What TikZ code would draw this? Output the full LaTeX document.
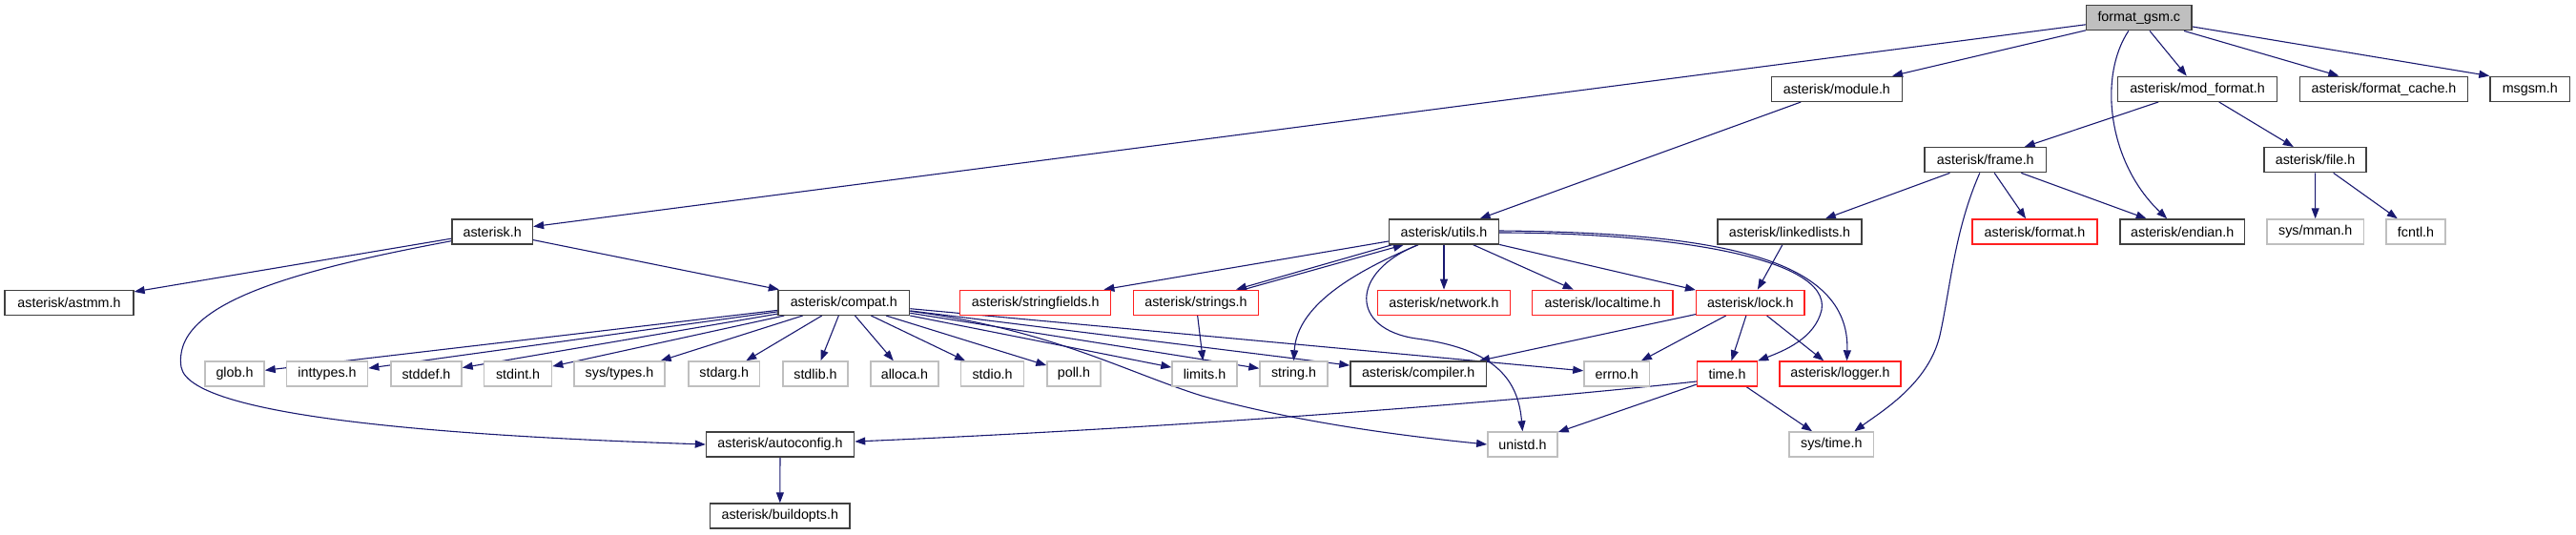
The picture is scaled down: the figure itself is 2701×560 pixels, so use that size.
\documentclass[tikz,border=0pt]{standalone}
\usepackage{fontspec}
\setmainfont{Liberation Sans}
\usetikzlibrary{arrows.meta,calc,backgrounds}
\definecolor{docgray}{HTML}{404040}
\definecolor{sysgray}{HTML}{BFBFBF}
\definecolor{edgeblue}{HTML}{191970}
\definecolor{truncred}{HTML}{FF2020}
\tikzset{
  nbase/.style={draw, rectangle, minimum height=26pt, inner sep=0pt, fill=white,
    font=\fontsize{14.3}{17}\selectfont, line width=1.4pt},
  docnode/.style={nbase, draw=docgray},
  trunc/.style={nbase, draw=truncred},
  sysnode/.style={nbase, draw=sysgray},
  rootnode/.style={nbase, draw=docgray, fill=sysgray},
  dep/.style={draw=edgeblue, line width=1.1pt, -{Triangle[length=11pt,width=8pt]}},
}
\begin{document}
\begin{tikzpicture}[x=1pt,y=-1pt]
\useasboundingbox (0,0) rectangle (2701,560);
% row 1
\node[rootnode, minimum width=110.5pt] (fgsm) at (2242.8,18.7) {format\_gsm.c};
% row 2
\node[docnode, minimum width=136.6pt] (module) at (1925.9,93.3) {asterisk/module.h};
\node[docnode, minimum width=167pt] (modformat) at (2304,93.3) {asterisk/mod\_format.h};
\node[docnode, minimum width=176pt] (fcache) at (2499.5,93.3) {asterisk/format\_cache.h};
\node[docnode, minimum width=83.6pt] (msgsm) at (2652.8,93.3) {msgsm.h};
% row 3
\node[docnode, minimum width=127.5pt] (frame) at (2081.8,167.7) {asterisk/frame.h};
\node[docnode, minimum width=107pt] (file) at (2427.5,167.7) {asterisk/file.h};
% row 4
\node[docnode, minimum width=84.5pt] (asterisk) at (516.2,243) {asterisk.h};
\node[docnode, minimum width=115pt] (utils) at (1514,243) {asterisk/utils.h};
\node[docnode, minimum width=151pt] (linked) at (1876.5,243) {asterisk/linkedlists.h};
\node[trunc, minimum width=131pt] (format) at (2133.5,243) {asterisk/format.h};
\node[docnode, minimum width=130.8pt] (endian) at (2288.2,243) {asterisk/endian.h};
\node[sysnode, minimum width=101.8pt] (mman) at (2427.7,243) {sys/mman.h};
\node[sysnode, minimum width=62pt] (fcntl) at (2533,243) {fcntl.h};
% row 5
\node[docnode, minimum width=135pt] (astmm) at (72.5,317.3) {asterisk/astmm.h};
\node[docnode, minimum width=137.6pt] (compat) at (884.8,317.3) {asterisk/compat.h};
\node[trunc, minimum width=158pt] (sfields) at (1085.7,317.3) {asterisk/stringfields.h};
\node[trunc, minimum width=131pt] (strings) at (1254,317.3) {asterisk/strings.h};
\node[trunc, minimum width=139pt] (network) at (1514,317.3) {asterisk/network.h};
\node[trunc, minimum width=147.3pt] (localtime) at (1680.4,317.3) {asterisk/localtime.h};
\node[trunc, minimum width=113.4pt] (lock) at (1835.3,317.3) {asterisk/lock.h};
% row 6
\node[sysnode, minimum width=62pt] (glob) at (246,392) {glob.h};
\node[sysnode, minimum width=85.3pt] (inttypes) at (343,392) {inttypes.h};
\node[sysnode, minimum width=74pt] (stddef) at (447,392) {stddef.h};
\node[sysnode, minimum width=71pt] (stdint) at (543.1,392) {stdint.h};
\node[sysnode, minimum width=95pt] (systypes) at (649.5,392) {sys/types.h};
\node[sysnode, minimum width=74.5pt] (stdarg) at (759.2,392) {stdarg.h};
\node[sysnode, minimum width=68pt] (stdlib) at (855,392) {stdlib.h};
\node[sysnode, minimum width=71pt] (alloca) at (948.5,392) {alloca.h};
\node[sysnode, minimum width=66pt] (stdio) at (1040.6,392) {stdio.h};
\node[sysnode, minimum width=56pt] (poll) at (1126,392) {poll.h};
\node[sysnode, minimum width=68pt] (limits) at (1263,392) {limits.h};
\node[sysnode, minimum width=71pt] (string) at (1356.5,392) {string.h};
\node[docnode, minimum width=142.5pt] (compiler) at (1487.2,392) {asterisk/compiler.h};
\node[sysnode, minimum width=68.5pt] (errno) at (1695.2,392) {errno.h};
\node[trunc, minimum width=63pt] (time) at (1811,392) {time.h};
\node[trunc, minimum width=127pt] (logger) at (1929.5,392) {asterisk/logger.h};
% row 7
\node[docnode, minimum width=155pt] (autoconfig) at (818,466) {asterisk/autoconfig.h};
\node[sysnode, minimum width=73.2pt] (unistd) at (1596.4,466) {unistd.h};
\node[sysnode, minimum width=88.7pt] (systime) at (1920.3,466) {sys/time.h};
% row 8
\node[docnode, minimum width=146.4pt] (buildopts) at (817.8,541) {asterisk/buildopts.h};

\begin{scope}[on background layer]
% format_gsm.c
\draw[dep] (fgsm) -- (asterisk);
\draw[dep] (fgsm) -- (module);
\draw[dep] ($(fgsm.south)+(-11,0)$) .. controls (2200,80) and (2210,170) .. ($(endian.north)+(-16,0)$);
\draw[dep] (fgsm) -- (modformat);
\draw[dep] (fgsm) -- (fcache);
\draw[dep] (fgsm) -- (msgsm.north west);
% module / mod_format
\draw[dep] (module) -- (utils);
\draw[dep] (modformat) -- (frame);
\draw[dep] (modformat) -- (file);
% frame
\draw[dep] (frame) -- (linked);
\draw[dep] (frame) -- (format);
\draw[dep] (frame) -- (endian);
\draw[dep] ($(frame.south)+(-6,0)$) .. controls (2050,240) and (2045,300) .. (2035,347)
   .. controls (2025,400) and (1975,430) .. ($(systime.north)+(24,0)$);
% file
\draw[dep] (file) -- (mman);
\draw[dep] (file) -- (fcntl);
% asterisk.h
\draw[dep] (asterisk) -- (astmm);
\draw[dep] (asterisk) -- (compat);
\draw[dep] ($(asterisk.south west)+(0,-4)$) .. controls (300,285) and (180,320) .. (190,385)
   .. controls (200,440) and (500,458) .. (autoconfig.west);
% autoconfig
\draw[dep] (autoconfig) -- (buildopts);
% compat
\foreach \t in {glob,inttypes,stddef,stdint,systypes,stdarg,stdlib,alloca,stdio,poll,limits,string,compiler,errno}
  \draw[dep] (compat) -- (\t);
\draw[dep] ($(compat.east)+(0,9)$) .. controls (1100,345) and (1180,390) .. (1260,415)
   .. controls (1350,440) and (1450,455) .. (unistd.west);
% utils
\draw[dep] ($(utils.west)+(0,10)$) -- ($(sfields.north east)+(-8,0)$);
\draw[dep] ($(utils.south west)+(4,0)$) -- ($(strings.north)+(42,0)$);
\draw[dep] ($(strings.north)+(50,0)$) -- ($(utils.south west)+(16,0)$);
\draw[dep] ($(utils.south)+(-27,0)$) .. controls (1420,285) and (1360,320) .. (string.north);
\draw[dep] ($(utils.south)+(-27,0)$) .. controls (1415,285) and (1415,345) .. (1485,355)
   .. controls (1570,366) and (1592,400) .. (unistd.north);
\draw[dep] (utils) -- (network);
\draw[dep] (utils) -- (localtime);
\draw[dep] (utils) -- (lock);
\draw[dep] ($(utils.east)+(0,1)$) .. controls (1750,244) and (1920,270) .. (1910,325)
   .. controls (1903,355) and (1870,368) .. (time.north east);
\draw[dep] ($(utils.east)+(0,-1)$) .. controls (1800,244) and (1940,270) .. ($(logger.north)+(7,0)$);
% strings
\draw[dep] (strings) -- (limits);
% linkedlists
\draw[dep] (linked) -- (lock);
% lock
\draw[dep] (lock) -- (compiler);
\draw[dep] (lock) -- (errno);
\draw[dep] (lock) -- (time);
\draw[dep] (lock) -- (logger);
% time
\draw[dep] ($(time.west)+(0,8)$) .. controls (1550,425) and (1200,450) .. ($(autoconfig.east)+(0,-3)$);
\draw[dep] (time) -- (unistd);
\draw[dep] (time) -- (systime);
\end{scope}
\end{tikzpicture}
\end{document}
